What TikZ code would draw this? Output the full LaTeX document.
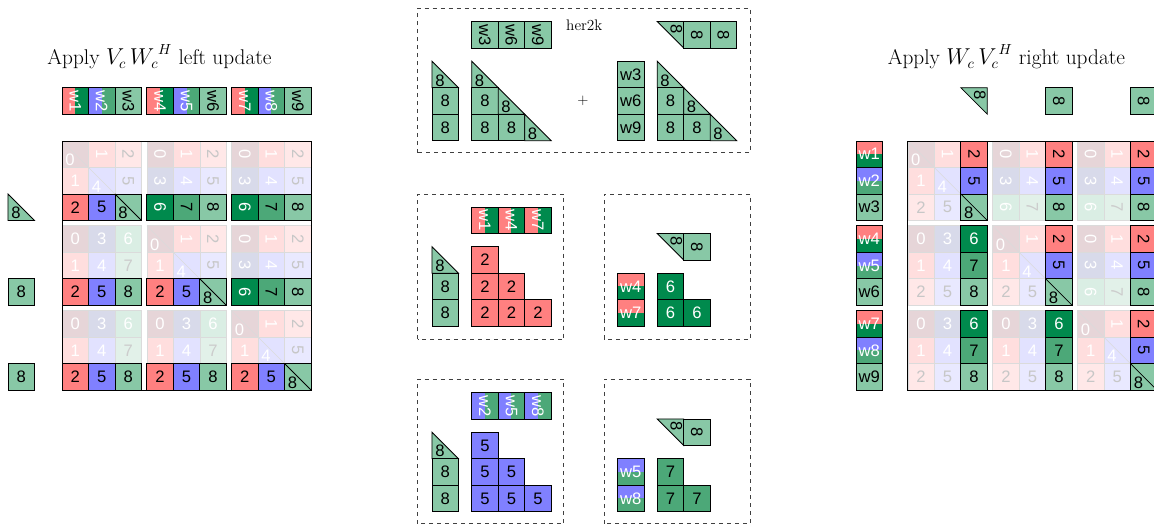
\documentclass[tikz,border=0pt]{standalone}
\usepackage{fontspec}
\setsansfont{Liberation Sans}

\definecolor{redc}{RGB}{255,128,128}
\definecolor{bluec}{RGB}{128,128,255}
\definecolor{dgreen}{RGB}{0,138,77}
\definecolor{mgreen}{RGB}{76,168,120}
\definecolor{lgreen}{RGB}{136,200,166}
% highlighted cells
\colorlet{hl2}{redc}\colorlet{hl5}{bluec}\colorlet{hl6}{dgreen}
\colorlet{hl7}{mgreen}\colorlet{hl8}{lgreen}
\colorlet{ht2}{black}\colorlet{ht5}{black}\colorlet{ht6}{white}
\colorlet{ht7}{black}\colorlet{ht8}{black}
% faded cells
\definecolor{fd0}{RGB}{230,213,216}
\definecolor{fd1}{RGB}{255,222,222}
\definecolor{fd2}{RGB}{255,232,232}
\definecolor{fd3}{RGB}{216,218,234}
\definecolor{fd4}{RGB}{226,226,255}
\definecolor{fd5}{RGB}{233,233,255}
\definecolor{fd6}{RGB}{218,238,228}
\definecolor{fd7}{RGB}{226,241,233}
\colorlet{ft0}{white}\colorlet{ft1}{white}\colorlet{ft2}{black!22}
\colorlet{ft3}{white}\colorlet{ft4}{white}\colorlet{ft5}{black!22}
\colorlet{ft6}{white}\colorlet{ft7}{black!20}

% one square cell: [text opts]{bottom left}{fill}{label}
\newcommand{\sqcell}[4][]{%
  \begin{scope}[shift={#2}]
    \filldraw[edge,fill=#3] (0,0) rectangle (1,1);
    \node[num,#1] at (0.5,0.5) {#4};
  \end{scope}}
% lower left triangle
\newcommand{\locell}[4][]{%
  \begin{scope}[shift={#2}]
    \filldraw[edge,fill=#3] (0,1) -- (0,0) -- (1,0) -- cycle;
    \node[num,#1] at (0.3,0.28) {#4};
  \end{scope}}
% upper right triangle, label turned
\newcommand{\upcell}[4][]{%
  \begin{scope}[shift={#2}]
    \filldraw[edge,fill=#3] (0,1) -- (1,1) -- (1,0) -- cycle;
    \node[num,rotate=-90,#1] at (0.72,0.72) {#4};
  \end{scope}}
% w tile split left/right, label turned
\newcommand{\wtilev}[5][white]{%
  \begin{scope}[shift={#2}]
    \fill[#3] (0,0) rectangle (0.5,1);
    \fill[#4] (0.5,0) rectangle (1,1);
    \draw[edge] (0,0) rectangle (1,1);
    \node[num,text=#1,rotate=-90] at (0.5,0.5) {#5};
  \end{scope}}
% w tile split top/bottom
\newcommand{\wtileh}[5][white]{%
  \begin{scope}[shift={#2}]
    \fill[#3] (0,0.5) rectangle (1,1);
    \fill[#4] (0,0) rectangle (1,0.5);
    \draw[edge] (0,0) rectangle (1,1);
    \node[num,text=#1] at (0.5,0.5) {#5};
  \end{scope}}
% 3x3 blocks of 3x3 tiles: {x}{y} of block (0,0), {0 = row 2 lit, 1 = column 2 lit}
\newcommand{\tilegrid}[3]{%
  \foreach \bi in {0,1,2}{
  \foreach \bj in {0,1,2}{
  \foreach \ri in {0,1,2}{
  \foreach \ci in {0,1,2}{
    \pgfmathsetmacro\x{#1+3.2*\bj+\ci}
    \pgfmathsetmacro\y{#2-3.2*\bi+2-\ri}
    \pgfmathtruncatemacro\kind{\bj<\bi ? 0 : (\bj>\bi ? 2 : (\ri>\ci ? 0 : (\ri<\ci ? 2 : 1)))}
    \pgfmathtruncatemacro\val{\kind==0 ? 3*\ci+\ri : (\kind==2 ? 3*\ri+\ci : 4*\ri)}
    \pgfmathtruncatemacro\hil{#3==0 ? (\ri==2) : (\ci==2)}
    \pgfmathtruncatemacro\rot{\kind==2 ? -90 : 0}
    \ifnum\kind=1
      \ifnum\hil=1
        \filldraw[edge,fill=lgreen] (\x,\y) rectangle ++(1,1);
        \draw[edge] (\x,\y+1) -- ++(1,-1);
        \node[num] at (\x+0.3,\y+0.28) {\val};
      \else
        \filldraw[faint,fill=fd\val] (\x,\y) rectangle ++(1,1);
        \draw[faint] (\x,\y+1) -- ++(1,-1);
        \node[num,text=ft\val] at (\x+0.3,\y+0.28) {\val};
      \fi
    \else
      \ifnum\hil=1
        \filldraw[edge,fill=hl\val] (\x,\y) rectangle ++(1,1);
        \node[num,text=ht\val,rotate=\rot] at (\x+0.5,\y+0.5) {\val};
      \else
        \filldraw[faint,fill=fd\val] (\x,\y) rectangle ++(1,1);
        \node[num,text=ft\val,rotate=\rot] at (\x+0.5,\y+0.5) {\val};
      \fi
    \fi
  }}}}
  \draw[edge] (#1,#2-6.4) rectangle (#1+9.4,#2+3);}

\begin{document}
\begin{tikzpicture}[x=0.7cm,y=0.7cm,
  edge/.style={draw=black,line width=0.6pt},
  faint/.style={draw=black!14,line width=0.4pt},
  num/.style={font=\sffamily\fontsize{12.5}{14}\selectfont,inner sep=0pt},
  frame/.style={draw=black!75,dashed,line width=0.6pt},
  title/.style={font=\fontsize{16}{18}\selectfont}]

  \clip (0,0) rectangle (43.55,19.81);

  % left update
  \node[title] (ltitle) at (6.02,17.66) {Apply $V_c\,{W_c}^H$ left update};
  \foreach \k/\wa/\wb/\wc in {0/w1/w2/w3,1/w4/w5/w6,2/w7/w8/w9}{
    \wtilev{(2.34+3.2*\k,15.5)}{redc}{dgreen}{\wa}
    \wtilev{(3.34+3.2*\k,15.5)}{bluec}{mgreen}{\wb}
    \wtilev[black]{(4.34+3.2*\k,15.5)}{lgreen}{lgreen}{\wc}
  }
  \locell{(0.3,11.49)}{lgreen}{8}
  \sqcell{(0.3,8.29)}{lgreen}{8}
  \sqcell{(0.3,5.09)}{lgreen}{8}
  \tilegrid{2.34}{11.49}{0}

  % her2k
  \draw[frame] (15.77,14.04) rectangle (28.3,19.51);
  \node (her) at (22.05,18.85) {\fontsize{11.5}{13}\selectfont her2k};
  \sqcell[rotate=-90]{(17.8,18)}{lgreen}{w3}
  \sqcell[rotate=-90]{(18.8,18)}{lgreen}{w6}
  \sqcell[rotate=-90]{(19.8,18)}{lgreen}{w9}
  \upcell{(24.8,18)}{lgreen}{8}
  \sqcell[rotate=-90]{(25.8,18)}{lgreen}{8}
  \sqcell[rotate=-90]{(26.8,18)}{lgreen}{8}
  \locell{(16.3,16.5)}{lgreen}{8}
  \sqcell{(16.3,15.5)}{lgreen}{8}
  \sqcell{(16.3,14.5)}{lgreen}{8}
  \node (plus) at (22.0,16.0) {\fontsize{11}{13}\selectfont +};
  \sqcell{(23.3,16.5)}{lgreen}{w3}
  \sqcell{(23.3,15.5)}{lgreen}{w6}
  \sqcell{(23.3,14.5)}{lgreen}{w9}
  \foreach \xo in {17.8,24.8}{
    \locell{(\xo,16.5)}{lgreen}{8}
    \sqcell{(\xo,15.5)}{lgreen}{8}
    \locell{(\xo+1,15.5)}{lgreen}{8}
    \sqcell{(\xo,14.5)}{lgreen}{8}
    \sqcell{(\xo+1,14.5)}{lgreen}{8}
    \locell{(\xo+2,14.5)}{lgreen}{8}
  }

  % red part
  \draw[frame] (15.77,7.0) rectangle (21.28,12.49);
  \wtilev{(17.8,11)}{redc}{dgreen}{w1}
  \wtilev{(18.8,11)}{redc}{dgreen}{w4}
  \wtilev{(19.8,11)}{redc}{dgreen}{w7}
  \locell{(16.3,9.5)}{lgreen}{8}
  \sqcell{(16.3,8.5)}{lgreen}{8}
  \sqcell{(16.3,7.5)}{lgreen}{8}
  \sqcell{(17.8,9.5)}{redc}{2}
  \sqcell{(17.8,8.5)}{redc}{2}
  \sqcell{(18.8,8.5)}{redc}{2}
  \sqcell{(17.8,7.5)}{redc}{2}
  \sqcell{(18.8,7.5)}{redc}{2}
  \sqcell{(19.8,7.5)}{redc}{2}

  \draw[frame] (22.79,7.0) rectangle (28.3,12.49);
  \upcell{(24.8,10)}{lgreen}{8}
  \sqcell[rotate=-90]{(25.8,10)}{lgreen}{8}
  \wtileh{(23.3,8.5)}{redc}{dgreen}{w4}
  \wtileh{(23.3,7.5)}{redc}{dgreen}{w7}
  \sqcell[text=white]{(24.8,8.5)}{dgreen}{6}
  \sqcell[text=white]{(24.8,7.5)}{dgreen}{6}
  \sqcell[text=white]{(25.8,7.5)}{dgreen}{6}

  % blue part
  \draw[frame] (15.77,0.04) rectangle (21.28,5.51);
  \wtilev{(17.8,4)}{bluec}{mgreen}{w2}
  \wtilev{(18.8,4)}{bluec}{mgreen}{w5}
  \wtilev{(19.8,4)}{bluec}{mgreen}{w8}
  \locell{(16.3,2.5)}{lgreen}{8}
  \sqcell{(16.3,1.5)}{lgreen}{8}
  \sqcell{(16.3,0.5)}{lgreen}{8}
  \sqcell{(17.8,2.5)}{bluec}{5}
  \sqcell{(17.8,1.5)}{bluec}{5}
  \sqcell{(18.8,1.5)}{bluec}{5}
  \sqcell{(17.8,0.5)}{bluec}{5}
  \sqcell{(18.8,0.5)}{bluec}{5}
  \sqcell{(19.8,0.5)}{bluec}{5}

  \draw[frame] (22.79,0.04) rectangle (28.3,5.51);
  \upcell{(24.8,3)}{lgreen}{8}
  \sqcell[rotate=-90]{(25.8,3)}{lgreen}{8}
  \wtileh{(23.3,1.5)}{bluec}{mgreen}{w5}
  \wtileh{(23.3,0.5)}{bluec}{mgreen}{w8}
  \sqcell{(24.8,1.5)}{mgreen}{7}
  \sqcell{(24.8,0.5)}{mgreen}{7}
  \sqcell{(25.8,0.5)}{mgreen}{7}

  % right update
  \node[title] (rtitle) at (37.98,17.66) {Apply $W_c\,{V_c}^H$ right update};
  \upcell{(36.26,15.5)}{lgreen}{8}
  \sqcell[rotate=-90]{(39.46,15.5)}{lgreen}{8}
  \sqcell[rotate=-90]{(42.66,15.5)}{lgreen}{8}
  \foreach \k/\wa/\wb/\wc in {0/w1/w2/w3,1/w4/w5/w6,2/w7/w8/w9}{
    \wtileh{(32.3,13.49-3.2*\k)}{redc}{dgreen}{\wa}
    \wtileh{(32.3,12.49-3.2*\k)}{bluec}{mgreen}{\wb}
    \sqcell{(32.3,11.49-3.2*\k)}{lgreen}{\wc}
  }
  \tilegrid{34.26}{11.49}{1}
\end{tikzpicture}
\end{document}
